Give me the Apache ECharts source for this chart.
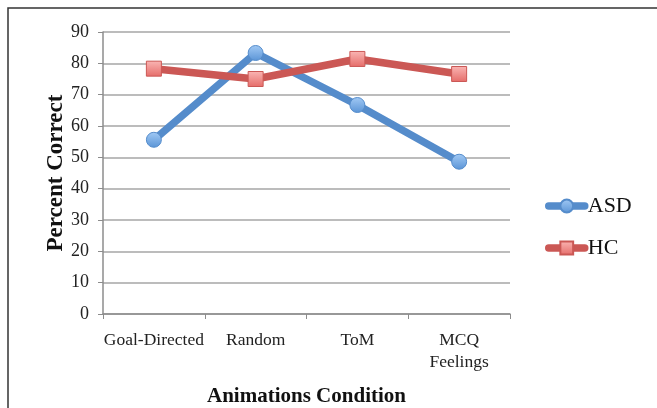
<!DOCTYPE html>
<html><head><meta charset="utf-8">
<script src="https://cdn.jsdelivr.net/npm/echarts@6/dist/echarts.min.js"></script>
<style>html,body{margin:0;padding:0;background:#fff}#c{width:657px;height:408px}</style>
</head><body><div id="c"></div>
<script>
const categories = ['Goal-Directed', 'Random', 'ToM', 'MCQ\nFeelings'];
const asdValues = [55.6, 83.3, 66.7, 48.6];
const hcValues = [78.3, 75.0, 81.4, 76.6];
const seriesNames = ['ASD', 'HC'];
const yAxisName = 'Percent Correct';
const xAxisName = 'Animations Condition';

const font = '"Liberation Serif", "Times New Roman", serif';
const chart = echarts.init(document.getElementById('c'));
function grad(light, dark){
  return new echarts.graphic.LinearGradient(0,0,0,1,[{offset:0,color:light},{offset:1,color:dark}]);
}
chart.setOption({
  animation: false,
  graphic: [{type:'rect', shape:{x:8,y:8,width:700,height:500}, style:{fill:'none', stroke:'#333', lineWidth:1.5}, silent:true}],
  grid: {left:103, right:147, top:32, bottom:94, outerBoundsMode:'none', containLabel:false},
  legend: {
    orient:'vertical', left:540, top:190, itemWidth:36, itemHeight:16, itemGap:20,
    lineStyle:{width:7.5, cap:'round'},
    textStyle:{fontFamily:font, fontSize:22, color:'#111', padding:[0,0,0,-2]},
    data: seriesNames
  },
  xAxis: {
    type:'category', data:categories, boundaryGap:true,
    axisLine:{lineStyle:{color:'#8c8c8c', width:1.5}},
    axisTick:{show:true, length:5, lineStyle:{color:'#8c8c8c'}},
    axisLabel:{fontFamily:font, fontSize:17.5, color:'#222', margin:15, lineHeight:22, interval:0},
    name:xAxisName, nameLocation:'middle', nameGap:72, nameMoveOverlap:false,
    nameTextStyle:{fontFamily:font, fontSize:21, fontWeight:'bold', color:'#111'}
  },
  yAxis: {
    type:'value', min:0, max:90, interval:10,
    axisLine:{show:true, lineStyle:{color:'#8c8c8c', width:1.5}},
    axisTick:{show:true, length:5, lineStyle:{color:'#8c8c8c'}},
    splitLine:{lineStyle:{color:'#a6a6a6', width:1.5}},
    axisLabel:{fontFamily:font, fontSize:18, color:'#222', margin:14},
    name:yAxisName, nameLocation:'middle', nameGap:35, nameMoveOverlap:false,
    nameTextStyle:{fontFamily:font, fontSize:23, fontWeight:'bold', color:'#111'}
  },
  series: [
    {name:seriesNames[0], type:'line', data:asdValues, symbol:'circle', symbolSize:15,
     lineStyle:{color:'#558ccb', width:7.5}, 
     itemStyle:{color:grad('#a2caf5','#5a94d6'), borderColor:'#558ccb', borderWidth:1}},
    {name:seriesNames[1], type:'line', data:hcValues, symbol:'rect', symbolSize:15,
     lineStyle:{color:'#cb5855', width:7.5},
     itemStyle:{color:grad('#fab6b4','#e56c69'), borderColor:'#cb5855', borderWidth:1}}
  ]
});
</script></body></html>
